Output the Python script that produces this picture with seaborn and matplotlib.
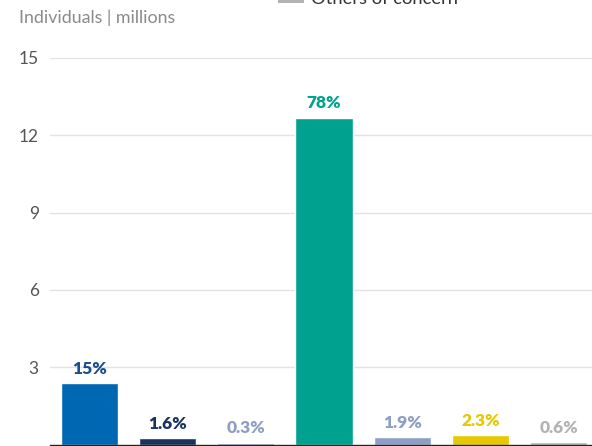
import matplotlib
matplotlib.use("Agg")
import matplotlib.pyplot as plt
from matplotlib.patches import Patch
import seaborn as sns
import pandas as pd

# Population groups (millions) and their share of the total
categories = ["Refugees", "Asylum-seekers", "Returned refugees", "IDPs",
              "Returned IDPs", "Stateless persons", "Others of concern"]
values = [2.38, 0.25, 0.07, 12.69, 0.29, 0.36, 0.1]
shares = ["15%", "1.6%", "0.3%", "78%", "1.9%", "2.3%", "0.6%"]
yticks = [3, 6, 9, 12, 15]

bar_colors = ["#0068b3", "#1b345f", "#8e9fc6", "#00a28f", "#8e9fc6", "#e6c800", "#b3b3b3"]
label_colors = ["#1d4e8c", "#1b345f", "#8e9fc6", "#00a28f", "#8e9fc6", "#e6c800", "#b3b3b3"]

df = pd.DataFrame({"category": categories, "value": values})

sns.set_theme(style="white")
plt.rcParams["font.family"] = ["Lato", "DejaVu Sans"]

fig = plt.figure(figsize=(5.92, 4.46), dpi=100)
ax = fig.add_axes([50 / 592, 1 - 444.5 / 446, 548 / 592, (444.5 - 58) / 446])

sns.barplot(data=df, x="category", y="value", hue="category",
            palette=dict(zip(categories, bar_colors)), width=0.73,
            legend=False, saturation=1, ax=ax, zorder=3)

ax.set_ylim(0, 15)
ax.set_xlim(-0.5, len(categories) - 0.5)
ax.set_yticks(yticks)
ax.set_yticklabels([str(t) for t in yticks], fontsize=12.5, color="#555555")
ax.tick_params(axis="y", length=0, pad=8)
ax.set_xticks([])
ax.set_xlabel("")
ax.set_ylabel("")
ax.grid(axis="y", color="#e3e3e3", linewidth=1, zorder=0)
for side in ["top", "right", "left"]:
    ax.spines[side].set_visible(False)
ax.spines["bottom"].set_color("#222222")
ax.spines["bottom"].set_linewidth(1.0)
ax.spines["bottom"].set_zorder(5)

for i, (v, s) in enumerate(zip(values, shares)):
    ax.annotate(s, xy=(i, v), xytext=(0, 4.5), textcoords="offset points",
                ha="center", va="bottom", fontsize=12.5, fontweight="heavy",
                color=label_colors[i])

fig.text(19 / 592, 1 - 18 / 446, "Individuals | millions", fontsize=12.8,
         color="#8a8a8a", ha="left", va="center")

handle = Patch(facecolor="#b3b3b3", edgecolor="none")
fig.legend([handle], ["Others of concern"], loc="lower left",
           bbox_to_anchor=(278 / 592, 1 - 7 / 446), frameon=False,
           fontsize=13.2, handlelength=1.4, handleheight=0.5,
           handletextpad=0.4, borderpad=0, borderaxespad=0,
           labelcolor="#333333")

fig.savefig("out.png", dpi=100)
